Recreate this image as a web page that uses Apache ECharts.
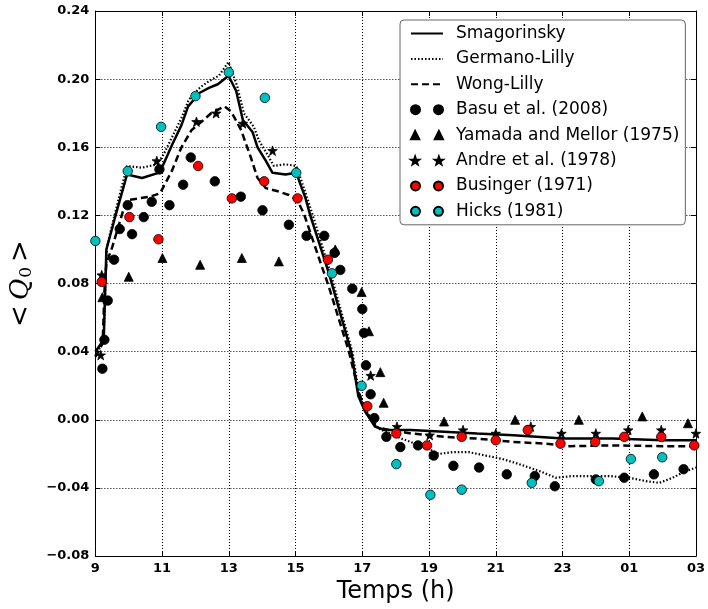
<!DOCTYPE html>
<html><head><meta charset="utf-8">
<script src="https://cdn.jsdelivr.net/npm/echarts@6/dist/echarts.min.js"></script>
<style>html,body{margin:0;padding:0;background:#fff}#c{width:708px;height:609px}</style>
</head><body><div id="c"></div>
<script>
// ---- data ----
const xTicks = [9, 11, 13, 15, 17, 19, 21, 23, 25, 27];
const yTicks = [-0.08, -0.04, 0.00, 0.04, 0.08, 0.12, 0.16, 0.20, 0.24];

const smagX = [9.0, 9.25, 9.30, 9.33, 9.62, 9.95, 10.4, 10.89, 11.04, 11.29, 11.58, 11.78, 12.13, 12.42, 12.67, 12.99, 13.22, 13.42, 13.71, 13.86, 14.11, 14.31, 14.70, 15.02, 15.30, 15.44, 16.0, 16.68, 16.88, 17.08, 17.38, 17.67, 18.46, 19.45, 20.44, 21.53, 23.02, 24.5, 26.0, 27.0];
const smagY = [0.040, 0.047, 0.080, 0.100, 0.121, 0.144, 0.142, 0.145, 0.150, 0.161, 0.173, 0.184, 0.192, 0.195, 0.197, 0.202, 0.193, 0.176, 0.169, 0.160, 0.152, 0.145, 0.144, 0.145, 0.130, 0.120, 0.086, 0.039, 0.014, 0.005, -0.004, -0.006, -0.006, -0.007, -0.008, -0.009, -0.011, -0.011, -0.012, -0.012];

const germX = [9.0, 9.25, 9.30, 9.35, 9.65, 9.95, 10.4, 10.85, 11.05, 11.3, 11.6, 11.8, 12.13, 12.42, 12.7, 12.99, 13.25, 13.45, 13.75, 13.9, 14.15, 14.35, 14.7, 15.02, 15.32, 15.5, 16.05, 16.7, 16.9, 17.1, 17.47, 18.17, 18.86, 19.3, 19.7, 20.2, 20.7, 21.2, 21.7, 22.3, 22.8, 23.3, 23.8, 24.4, 25.0, 25.5, 25.9, 26.3, 26.6, 27.0];
const germY = [0.038, 0.046, 0.080, 0.102, 0.126, 0.149, 0.148, 0.150, 0.156, 0.166, 0.178, 0.188, 0.195, 0.199, 0.202, 0.210, 0.196, 0.180, 0.172, 0.164, 0.156, 0.149, 0.150, 0.149, 0.132, 0.121, 0.086, 0.040, 0.016, 0.006, -0.005, -0.011, -0.016, -0.020, -0.019, -0.019, -0.021, -0.023, -0.026, -0.030, -0.034, -0.033, -0.033, -0.033, -0.034, -0.036, -0.037, -0.034, -0.031, -0.028];

const wongX = [9.0, 9.22, 9.27, 9.33, 9.5, 9.85, 9.95, 10.3, 10.64, 10.94, 11.29, 11.58, 11.88, 12.18, 12.47, 12.87, 13.07, 13.37, 13.66, 13.86, 14.11, 14.5, 14.8, 15.05, 15.25, 15.7, 16.0, 16.6, 16.9, 17.1, 17.4, 17.8, 18.46, 19.45, 20.44, 21.53, 22.52, 23.21, 24.5, 26.0, 27.0];
const wongY = [0.037, 0.045, 0.075, 0.092, 0.101, 0.124, 0.129, 0.130, 0.131, 0.133, 0.146, 0.160, 0.170, 0.175, 0.180, 0.184, 0.181, 0.170, 0.154, 0.142, 0.136, 0.134, 0.132, 0.129, 0.121, 0.095, 0.078, 0.040, 0.016, 0.005, -0.004, -0.006, -0.008, -0.010, -0.011, -0.013, -0.014, -0.0155, -0.015, -0.0155, -0.0155];

const basuX = [9.21, 9.27, 9.37, 9.56, 9.73, 9.97, 10.10, 10.45, 10.69, 10.92, 11.22, 11.63, 11.86, 12.58, 13.36, 14.01, 14.80, 15.33, 15.86, 16.17, 16.34, 16.70, 17.00, 17.05, 17.11, 17.25, 17.36, 17.72, 18.14, 18.67, 19.14, 19.73, 20.50, 21.33, 22.17, 22.77, 24.00, 24.85, 25.74, 26.63];
const basuY = [0.030, 0.047, 0.070, 0.094, 0.112, 0.126, 0.109, 0.119, 0.128, 0.147, 0.126, 0.138, 0.154, 0.140, 0.131, 0.123, 0.1145, 0.108, 0.108, 0.098, 0.088, 0.077, 0.065, 0.051, 0.032, 0.015, 0.001, -0.010, -0.016, -0.015, -0.021, -0.027, -0.028, -0.032, -0.033, -0.039, -0.035, -0.034, -0.032, -0.029];

const yamX = [9.21, 10.00, 11.01, 12.14, 13.39, 14.50, 16.19, 16.98, 17.20, 17.54, 17.64, 19.45, 21.58, 23.49, 25.39, 26.76];
const yamY = [0.072, 0.084, 0.095, 0.091, 0.095, 0.093, 0.100, 0.075, 0.052, 0.028, 0.010, -0.001, 0.000, 0.000, 0.002, -0.002];

const andreX = [9.16, 9.19, 10.84, 12.03, 12.62, 13.42, 14.31, 17.25, 18.04, 19.02, 20.02, 21.00, 22.05, 22.97, 24.00, 24.97, 25.96, 27.00];
const andreY = [0.038, 0.085, 0.152, 0.175, 0.180, 0.174, 0.158, 0.026, -0.004, -0.009, -0.006, -0.008, -0.004, -0.008, -0.008, -0.006, -0.006, -0.008];

const busX = [9.19, 10.02, 10.89, 12.08, 13.09, 14.06, 15.06, 15.97, 17.15, 18.02, 18.94, 19.98, 21.00, 21.96, 22.94, 23.98, 24.85, 25.96, 26.95];
const busY = [0.081, 0.119, 0.106, 0.149, 0.130, 0.140, 0.130, 0.094, 0.008, -0.008, -0.015, -0.010, -0.012, -0.006, -0.014, -0.013, -0.010, -0.010, -0.015];

const hicksX = [9.00, 9.97, 10.97, 12.00, 13.00, 14.08, 15.02, 16.09, 16.98, 18.02, 19.04, 19.98, 22.08, 24.09, 25.05, 25.99];
const hicksY = [0.105, 0.146, 0.172, 0.190, 0.204, 0.189, 0.145, 0.086, 0.020, -0.026, -0.044, -0.041, -0.037, -0.036, -0.023, -0.022];

const names = ['Smagorinsky', 'Germano-Lilly', 'Wong-Lilly', 'Basu et al. (2008)', 'Yamada and Mellor (1975)', 'Andre et al. (1978)', 'Businger (1971)', 'Hicks (1981)'];

// ---- helpers ----
const zip = (xs, ys) => xs.map((x, i) => [x, ys[i]]);
const fmtX = v => v <= 24 ? String(v) : ('0' + (v - 24));
const fmtY = v => (v < 0 ? '\u2212' : '') + Math.abs(v).toFixed(2);

function starPts(cx, cy, R, r) {
  let s = '';
  for (let k = 0; k < 10; k++) {
    const a = -Math.PI / 2 + k * Math.PI / 5;
    const rr = k % 2 ? r : R;
    s += (k ? 'L' : 'M') + (cx + rr * Math.cos(a)).toFixed(2) + ',' + (cy + rr * Math.sin(a)).toFixed(2);
  }
  return s + 'Z';
}
const circ2 = 'path://M0,4.5a4.5,4.5 0 1,0 9,0a4.5,4.5 0 1,0 -9,0Z M23,4.5a4.5,4.5 0 1,0 9,0a4.5,4.5 0 1,0 -9,0Z';
const tri2 = 'path://M4.5,0.5L8.5,8.5L0.5,8.5Z M27.5,0.5L31.5,8.5L23.5,8.5Z';
const star2 = 'path://' + starPts(4.5, 4.8, 4.2, 1.7) + ' ' + starPts(27.5, 4.8, 4.2, 1.7);
const starSym = 'path://' + starPts(5, 5.2, 5, 2);

const FONT = 'DejaVu Sans';
const chart = echarts.init(document.getElementById('c'), null, {renderer: 'canvas'});

const lineSeries = (name, xs, ys, type, width) => ({
  name, type: 'line', data: zip(xs, ys), showSymbol: false, symbol: 'none',
  lineStyle: {color: '#000', width, type}, itemStyle: {color: '#000'},
  xAxisIndex: 0, yAxisIndex: 0, z: 2, animation: false
});
const scatterSeries = (name, xs, ys, symbol, size, color) => ({
  name, type: 'scatter', data: zip(xs, ys), symbol, symbolSize: size,
  itemStyle: {color, borderColor: '#000', borderWidth: 0.8, opacity: 1},
  xAxisIndex: 0, yAxisIndex: 0, z: 3, clip: true, animation: false
});

const axisCommon = {
  type: 'value', min: 9, max: 27, interval: 2
};
const noSym = {color: 'rgba(0,0,0,0)', borderColor: 'rgba(0,0,0,0)', borderWidth: 0};

chart.setOption({
  animation: false,
  backgroundColor: '#fff',
  grid: {left: 88, right: 12, top: 11, bottom: 49, containLabel: false},
  xAxis: [
    Object.assign({}, axisCommon, {
      position: 'bottom',
      axisLine: {show: true, onZero: false, lineStyle: {color: '#000', width: 1}},
      axisTick: {show: true, inside: true, length: 5, lineStyle: {color: '#000'}},
      axisLabel: {color: '#000', fontFamily: FONT, fontWeight: 'bold', fontSize: 13, margin: 6, formatter: fmtX},
      splitLine: {show: true, lineStyle: {color: '#000', width: 1, type: [1, 2]}},
      name: 'Temps (h)', nameLocation: 'middle', nameGap: 17,
      nameTextStyle: {color: '#000', fontFamily: FONT, fontSize: 24}
    }),
    Object.assign({}, axisCommon, {
      position: 'top',
      axisLine: {show: true, onZero: false, lineStyle: {color: '#000', width: 1}},
      axisTick: {show: true, inside: true, length: 5, lineStyle: {color: '#000'}},
      axisLabel: {show: false}, splitLine: {show: false}
    })
  ],
  yAxis: [
    {
      type: 'value', min: -0.08, max: 0.24, interval: 0.04, position: 'left',
      axisLine: {show: true, onZero: false, lineStyle: {color: '#000', width: 1}},
      axisTick: {show: true, inside: true, length: 5, lineStyle: {color: '#000'}},
      axisLabel: {color: '#000', fontFamily: FONT, fontWeight: 'bold', fontSize: 13, margin: 6, formatter: fmtY},
      splitLine: {show: true, lineStyle: {color: '#000', width: 1, type: [1, 2]}},
      name: '{a|<}{q|Q}{s|0}{a|>}', nameLocation: 'middle', nameGap: 48, nameRotate: 90,
      nameTextStyle: {
        color: '#000',
        rich: {
          a: {fontFamily: 'DejaVu Sans', fontSize: 26, color: '#000', padding: [0, 5, 0, 5]},
          q: {fontFamily: 'DejaVu Serif', fontStyle: 'italic', fontSize: 26, color: '#000'},
          s: {fontFamily: 'DejaVu Serif', fontSize: 17, color: '#000', padding: [12, 0, 0, 1]}
        }
      }
    },
    {
      type: 'value', min: -0.08, max: 0.24, interval: 0.04, position: 'right',
      axisLine: {show: true, onZero: false, lineStyle: {color: '#000', width: 1}},
      axisTick: {show: true, inside: true, length: 5, lineStyle: {color: '#000'}},
      axisLabel: {show: false}, splitLine: {show: false}
    }
  ],
  legend: {
    orient: 'vertical', left: 400, top: 20,
    backgroundColor: '#fff', borderColor: '#666', borderWidth: 1, borderRadius: 4,
    padding: [5, 6, 5, 10], itemGap: 8.4, itemWidth: 32, itemHeight: 9,
    textStyle: {color: '#000', fontFamily: FONT, fontSize: 17, lineHeight: 17, padding: [0, 0, 0, 8]},
    data: [
      {name: names[0], itemStyle: noSym}, {name: names[1], itemStyle: noSym}, {name: names[2], itemStyle: noSym},
      {name: names[3], icon: circ2}, {name: names[4], icon: tri2}, {name: names[5], icon: star2},
      {name: names[6], icon: circ2}, {name: names[7], icon: circ2}
    ]
  },
  series: [
    lineSeries(names[0], smagX, smagY, 'solid', 2.5),
    lineSeries(names[1], germX, germY, [1.5, 2], 2.2),
    lineSeries(names[2], wongX, wongY, [7, 4], 2.5),
    scatterSeries(names[3], basuX, basuY, 'circle', 9.5, '#000'),
    scatterSeries(names[4], yamX, yamY, 'triangle', 9, '#000'),
    scatterSeries(names[5], andreX, andreY, starSym, 9.5, '#000'),
    scatterSeries(names[6], busX, busY, 'circle', 9.5, '#ff0000'),
    scatterSeries(names[7], hicksX, hicksY, 'circle', 9.5, '#00bfbf')
  ]
});
</script></body></html>
